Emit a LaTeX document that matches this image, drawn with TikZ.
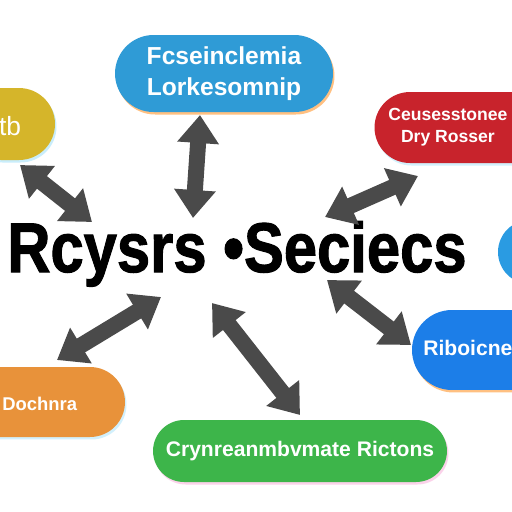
\documentclass[tikz,border=0pt]{standalone}
\usepackage{fontspec}
\setmainfont{Liberation Sans}
\newfontfamily\heavyfont{Liberation Sans}[FakeBold=1.6]
\usetikzlibrary{shapes.misc,arrows.meta,shadows}

\definecolor{pillsky}{HTML}{2F9BD6}
\definecolor{pillmustard}{HTML}{D5B52A}
\definecolor{pillred}{HTML}{C8232C}
\definecolor{pillazure}{HTML}{2A9BE2}
\definecolor{pillblue}{HTML}{1C7EE8}
\definecolor{pillorange}{HTML}{E8923A}
\definecolor{pillgreen}{HTML}{3DB54A}
\definecolor{linkgray}{HTML}{4A4A4A}

\begin{document}
\begin{tikzpicture}[%
				x=0.02cm, y=-0.02cm,
				pill/.style 2 args={%
					rounded rectangle,
					inner sep=0pt,
					fill=#1,
					drop shadow={shadow xshift=0.03cm, shadow yshift=-0.05cm, fill=#2, opacity=0.7},
					text=white,
					align=center,
					font=\bfseries
				},
				pilltext/.style={%
					inner sep=0pt,
					text=white,
					align=center
				},
				link/.style={%
					draw=linkgray,
					line width=0.32cm,
					{Triangle[width=0.8cm,length=0.56cm]}-{Triangle[width=0.8cm,length=0.56cm]}
				}
			]

				\useasboundingbox[fill=white] (0, 0) rectangle (512, 512);

				% pills
				\node (research) [pill={pillsky}{orange!70}, minimum width=4.36cm, minimum height=1.54cm,
					font=\bfseries\fontsize{14}{17.6}\selectfont] at (224, 73.5) {%
					Fcseinclemia\\
					Lorkesomnip
				};
				\node (yellowpill) [pill={pillmustard}{cyan!30}, minimum width=1.8cm, minimum height=1.44cm] at (10, 124) {};
				\node (yellowtext) [pilltext, font=\fontsize{15}{18}\selectfont] at (10, 126) {tb};

				\node (redpill) [pill={pillred}{cyan!25}, minimum width=3.7cm, minimum height=1.42cm] at (467, 127.5) {};
				\node (redtext) [pilltext, anchor=west, font=\bfseries\fontsize{10}{12.5}\selectfont] at (388, 127.5) {%
					Ceusesstonee\\
					Dry Rosser
				};

				\node (azurepill) [pill={pillazure}{white}, minimum width=2.08cm, minimum height=1.28cm] at (550, 252) {};

				\node (bluepill) [pill={pillblue}{orange!70}, minimum width=3.36cm, minimum height=1.6cm] at (496, 350) {};
				\node (bluetext) [pilltext, anchor=west, font=\bfseries\fontsize{12}{14}\selectfont] at (423, 348) {Riboicne};

				\node (orangepill) [pill={pillorange}{cyan!25}, minimum width=3.6cm, minimum height=1.4cm] at (35, 402) {};
				\node (orangetext) [pilltext, anchor=west, font=\bfseries\fontsize{10.5}{13}\selectfont] at (2, 404) {Dochnra};

				\node (greenpill) [pill={pillgreen}{magenta!25}, minimum width=5.88cm, minimum height=1.24cm,
					font=\bfseries\fontsize{12}{14}\selectfont] at (300, 451) {Crynreanmbvmate Rictons};

				% title
				\node (title) [inner sep=0pt, anchor=base west, font=\heavyfont\bfseries\fontsize{40}{48}\selectfont] at (7, 272) {%
					\scalebox{0.85}[1]{Rcysrs •Seciecs}%
				};

				% arrow ends
				\coordinate (tl1) at (20, 165);
				\coordinate (tl2) at (92, 222);
				\coordinate (tc1) at (200, 115);
				\coordinate (tc2) at (193, 218);
				\coordinate (tr1) at (418, 176);
				\coordinate (tr2) at (325, 217);
				\coordinate (br1) at (327, 280);
				\coordinate (br2) at (411, 345);
				\coordinate (bl1) at (161, 297);
				\coordinate (bl2) at (57, 360);
				\coordinate (bc1) at (212, 303);
				\coordinate (bc2) at (300, 415);

				\draw[link] (tl1) -- (tl2);
				\draw[link] (tc1) -- (tc2);
				\draw[link] (tr1) -- (tr2);
				\draw[link] (br1) -- (br2);
				\draw[link] (bl1) -- (bl2);
				\draw[link] (bc1) -- (bc2);
			\end{tikzpicture}
\end{document}
